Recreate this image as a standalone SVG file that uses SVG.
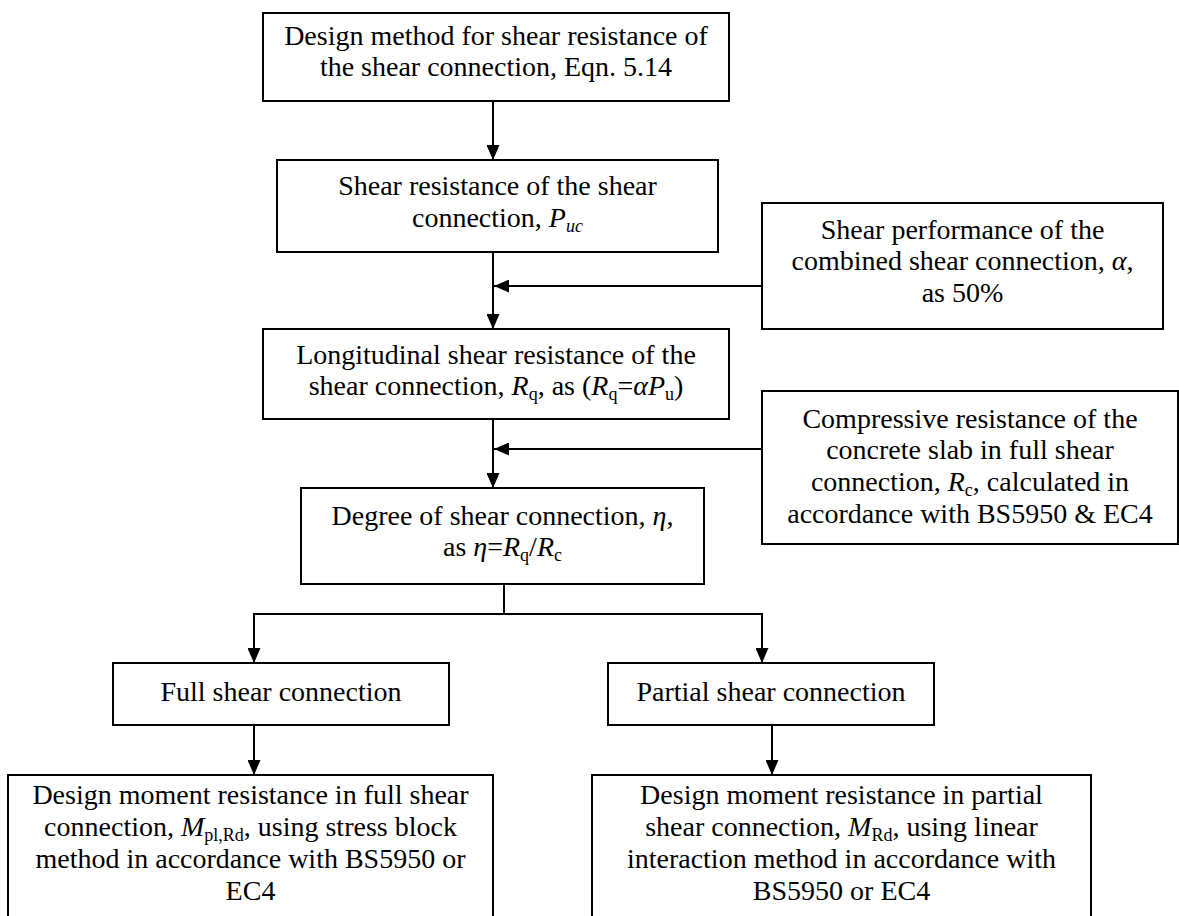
<svg xmlns="http://www.w3.org/2000/svg" width="1179" height="916" viewBox="0 0 1179 916">
  <defs>
    <style>
      .box { fill: #ffffff; stroke: #000000; stroke-width: 2; }
      .t { font-family: "Liberation Serif", "Times New Roman", serif; font-size: 28px; text-anchor: middle; fill: #000000; }
      .i { font-style: italic; }
      .sub { font-size: 18px; }
      .wire { stroke: #000000; stroke-width: 2; fill: none; }
    </style>
    <marker id="arrow" viewBox="0 0 15 13" refX="15" refY="6.5" markerWidth="15" markerHeight="13" markerUnits="userSpaceOnUse" orient="auto">
      <path d="M0,0 L15,6.5 L0,13 z" fill="#000000"/>
    </marker>
  </defs>

  <rect width="1179" height="916" fill="#ffffff"/>

  <!-- connectors -->
  <g id="connectors">
    <line class="wire" x1="493" y1="101" x2="493" y2="160" marker-end="url(#arrow)"/>
    <line class="wire" x1="493" y1="252" x2="493" y2="329" marker-end="url(#arrow)"/>
    <line class="wire" x1="762" y1="286" x2="494" y2="286" marker-end="url(#arrow)"/>
    <line class="wire" x1="493" y1="419" x2="493" y2="488" marker-end="url(#arrow)"/>
    <line class="wire" x1="762" y1="449" x2="494" y2="449" marker-end="url(#arrow)"/>
    <polyline class="wire" points="504,584 504,614"/>
    <polyline class="wire" points="504,614 254,614 254,663" marker-end="url(#arrow)"/>
    <polyline class="wire" points="504,614 762,614 762,663" marker-end="url(#arrow)"/>
    <line class="wire" x1="254" y1="725" x2="254" y2="775" marker-end="url(#arrow)"/>
    <line class="wire" x1="772" y1="725" x2="772" y2="775" marker-end="url(#arrow)"/>
  </g>

  <g id="design-method">
    <rect class="box" x="263" y="13" width="466" height="88"/>
    <text class="t" x="496" y="45">Design method for shear resistance of</text>
    <text class="t" x="496" y="76">the shear connection, Eqn. 5.14</text>
  </g>

  <g id="shear-resistance">
    <rect class="box" x="277" y="160" width="441" height="92"/>
    <text class="t" x="497.5" y="195">Shear resistance of the shear</text>
    <text class="t" x="497.5" y="227">connection, <tspan class="i">P</tspan><tspan class="i sub" dy="5">uc</tspan></text>
  </g>

  <g id="shear-performance">
    <rect class="box" x="762" y="203" width="401" height="126"/>
    <text class="t" x="962.5" y="239">Shear performance of the</text>
    <text class="t" x="962.5" y="270">combined shear connection, <tspan class="i">α</tspan>,</text>
    <text class="t" x="962.5" y="302">as 50%</text>
  </g>

  <g id="longitudinal-shear">
    <rect class="box" x="263" y="329" width="466" height="90"/>
    <text class="t" x="496" y="364">Longitudinal shear resistance of the</text>
    <text class="t" x="496" y="395">shear connection, <tspan class="i">R</tspan><tspan class="sub" dy="5">q</tspan><tspan dy="-5">, as (</tspan><tspan class="i">R</tspan><tspan class="sub" dy="5">q</tspan><tspan dy="-5">=</tspan><tspan class="i">αP</tspan><tspan class="sub" dy="5">u</tspan><tspan dy="-5">)</tspan></text>
  </g>

  <g id="compressive-resistance">
    <rect class="box" x="762" y="391" width="416" height="153"/>
    <text class="t" x="970" y="428">Compressive resistance of the</text>
    <text class="t" x="970" y="459">concrete slab in full shear</text>
    <text class="t" x="970" y="491">connection, <tspan class="i">R</tspan><tspan class="sub" dy="5">c</tspan><tspan dy="-5">, calculated in</tspan></text>
    <text class="t" x="970" y="523">accordance with BS5950 &amp; EC4</text>
  </g>

  <g id="degree-of-connection">
    <rect class="box" x="301" y="488" width="403" height="96"/>
    <text class="t" x="502.5" y="525">Degree of shear connection, <tspan class="i">η</tspan>,</text>
    <text class="t" x="502.5" y="556">as <tspan class="i">η</tspan>=<tspan class="i">R</tspan><tspan class="sub" dy="5">q</tspan><tspan dy="-5">/</tspan><tspan class="i">R</tspan><tspan class="sub" dy="5">c</tspan></text>
  </g>

  <g id="full-connection">
    <rect class="box" x="113" y="663" width="336" height="62"/>
    <text class="t" x="281" y="701">Full shear connection</text>
  </g>

  <g id="partial-connection">
    <rect class="box" x="608" y="663" width="326" height="62"/>
    <text class="t" x="771" y="701">Partial shear connection</text>
  </g>

  <g id="full-moment">
    <rect class="box" x="8" y="775" width="485" height="170"/>
    <text class="t" x="250.5" y="804">Design moment resistance in full shear</text>
    <text class="t" x="250.5" y="836">connection, <tspan class="i">M</tspan><tspan class="sub" dy="5">pl,Rd</tspan><tspan dy="-5">, using stress block</tspan></text>
    <text class="t" x="250.5" y="868">method in accordance with BS5950 or</text>
    <text class="t" x="250.5" y="900">EC4</text>
  </g>

  <g id="partial-moment">
    <rect class="box" x="592" y="775" width="499" height="170"/>
    <text class="t" x="841.5" y="804">Design moment resistance in partial</text>
    <text class="t" x="841.5" y="836">shear connection, <tspan class="i">M</tspan><tspan class="sub" dy="5">Rd</tspan><tspan dy="-5">, using linear</tspan></text>
    <text class="t" x="841.5" y="868">interaction method in accordance with</text>
    <text class="t" x="841.5" y="900">BS5950 or EC4</text>
  </g>
</svg>
